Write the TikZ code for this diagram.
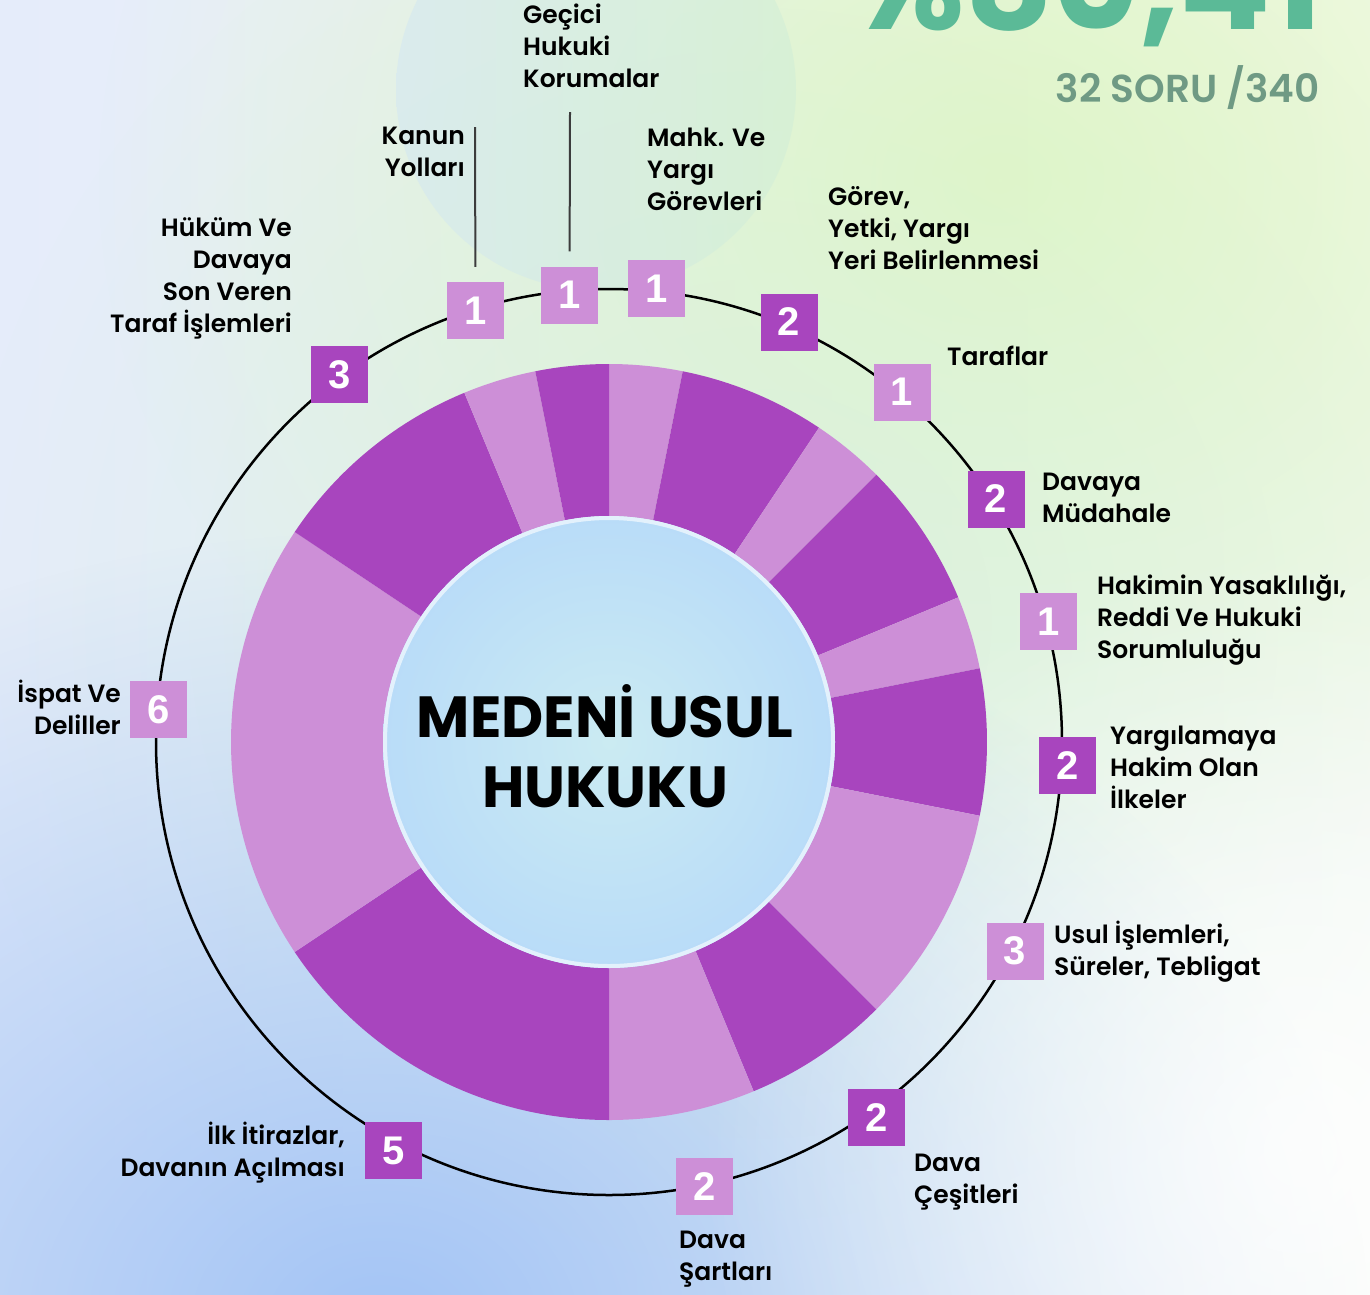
\documentclass[tikz,border=0pt]{standalone}
\usepackage{fontspec}
\usetikzlibrary{calc,fadings}
\newfontfamily\labfont{Poppins SemiBold}
\newfontfamily\headfont{Poppins Bold}
\newfontfamily\numfont{Liberation Sans}

\definecolor{segdark}{HTML}{A845BE}
\definecolor{seglight}{HTML}{CD8FD7}
\definecolor{pctgreen}{HTML}{5BBA97}
\definecolor{sorugray}{HTML}{6F9A84}
\definecolor{leadgray}{HTML}{3C3C3C}
\definecolor{bgleft}{HTML}{E5ECFA}
\definecolor{bgright}{HTML}{F7FAF7}
\definecolor{greenglow}{HTML}{E2F7C4}
\definecolor{cyanglow}{HTML}{D4F0DC}
\definecolor{blueglow}{HTML}{A3C4F5}
\definecolor{diskleft}{HTML}{D6E9F0}
\definecolor{diskright}{HTML}{D4EFD6}
\definecolor{holein}{HTML}{CBEBF2}
\definecolor{holeout}{HTML}{B9DCF8}

\tikzfading[name=glow, inner color=transparent!0, outer color=transparent!100]
\tikzfading[name=band, top color=transparent!100, middle color=transparent!0, bottom color=transparent!100]

\tikzset{
  numbox/.style={minimum size=57pt, inner sep=0pt, text=white,
    font=\numfont\bfseries\fontsize{40}{40}\selectfont},
  darkbox/.style={numbox, fill=segdark},
  lightbox/.style={numbox, fill=seglight},
  lbl/.style={inner sep=0pt, align=left, anchor=base west,
    font=\labfont\fontsize{25}{32}\selectfont},
  lblr/.style={lbl, align=right, anchor=base east},
  leader/.style={draw=leadgray, line width=2pt, shorten >=15pt}
}

\begin{document}
\begin{tikzpicture}[x=1pt, y=-1pt]
\useasboundingbox (0,0) rectangle (1370,1294);
\clip (0,0) rectangle (1370,1294);

\shade[left color=bgleft, right color=bgright] (0,0) rectangle (1370,1294);
\fill[greenglow, path fading=glow] (1000,180) ellipse [x radius=900, y radius=750];
\fill[cyanglow, path fading=glow, opacity=0.7] (760,620) circle [radius=800];
\fill[blueglow, path fading=glow] (380,1330) ellipse [x radius=1000, y radius=800];
\fill[white, path fading=glow, opacity=0.8] (1300,1150) circle [radius=600];
\shade[left color=diskleft, right color=diskright, opacity=0.7] (596,90) circle [radius=200];
\fill[white, path fading=band] (0,330) rectangle (340,418);
\fill[white, path fading=band, opacity=0.6] (0,340) rectangle (330,410);

\coordinate (O) at (609,742);

\foreach \a/\n/\c in {0/1/seglight, 1/2/segdark, 3/1/seglight, 4/2/segdark, 6/1/seglight,
  7/2/segdark, 9/3/seglight, 12/2/segdark, 14/2/seglight, 16/5/segdark,
  21/6/seglight, 27/3/segdark, 30/1/seglight, 31/1/segdark}
  \fill[\c] ($(O)+(-90+11.25*\a:378)$) arc[start angle=-90+11.25*\a, delta angle=11.25*\n, radius=378]
    -- ($(O)+(-90+11.25*\a+11.25*\n:226)$) arc[start angle=-90+11.25*\a+11.25*\n, delta angle=-11.25*\n, radius=226]
    -- cycle;

\shade[inner color=holein, outer color=holeout] (O) circle [radius=226];
\draw[white, opacity=0.6, line width=4pt] (O) circle [radius=224];

\draw[line width=2.5pt] (O) circle [radius=453];

\node[anchor=base east, inner sep=0pt, text=pctgreen, font=\headfont\fontsize{135}{135}\selectfont] (pct) at (1322,29) {\%80,41};
\node[anchor=base east, inner sep=0pt, text=sorugray, font=\labfont\fontsize{39}{39}\selectfont] (soru) at (1320,102) {32 SORU /340};

\node[inner sep=0pt, align=center, anchor=base, font=\headfont\fontsize{58}{70}\selectfont] (title) at (605,807) {MEDENİ USUL\\HUKUKU};

\node[lightbox] (bkanun) at (475.5,310.5) {1};
\node[lightbox] (bgecici) at (569.5,295) {1};
\node[lightbox] (bmahk) at (656.5,288.5) {1};
\node[darkbox] (bgorev) at (789,322) {2};
\node[lightbox] (btaraf) at (902,392) {1};
\node[darkbox] (bmudahale) at (996,499) {2};
\node[lightbox] (bhakim) at (1048.5,621.5) {1};
\node[darkbox] (bilke) at (1067.5,765.5) {2};
\node[lightbox] (busul) at (1015,951) {3};
\node[darkbox] (bcesit) at (876.5,1117.5) {2};
\node[lightbox] (bsart) at (704.5,1186.5) {2};
\node[darkbox] (bitiraz) at (393.5,1150.5) {5};
\node[lightbox] (bispat) at (158.5,709.5) {6};
\node[darkbox] (bhukum) at (339.5,374.5) {3};

\node[lblr] (lkanun) at (465,176) {Kanun\\Yolları};
\node[lbl] (lgecici) at (523,87) {Geçici\\Hukuki\\Korumalar};
\node[lbl] (lmahk) at (647,210) {Mahk. Ve\\Yargı\\Görevleri};
\node[lbl] (lgorev) at (828,269) {Görev,\\Yetki, Yargı\\Yeri Belirlenmesi};
\node[lbl] (ltaraf) at (947,365) {Taraflar};
\node[lbl] (lmudahale) at (1042,522) {Davaya\\Müdahale};
\node[lbl] (lhakim) at (1097,658) {Hakimin Yasaklılığı,\\Reddi Ve Hukuki\\Sorumluluğu};
\node[lbl] (lilke) at (1110,808) {Yargılamaya\\Hakim Olan\\İlkeler};
\node[lbl] (lusul) at (1054,975) {Usul İşlemleri,\\Süreler, Tebligat};
\node[lbl] (lcesit) at (914,1203) {Dava\\Çeşitleri};
\node[lbl] (lsart) at (679,1280) {Dava\\Şartları};
\node[lblr] (litiraz) at (345,1176) {İlk İtirazlar,\\Davanın Açılması};
\node[lblr] (lispat) at (121,734) {İspat Ve\\Deliller};
\node[lblr] (lhukum) at (292,332) {Hüküm Ve\\Davaya\\Son Veren\\Taraf İşlemleri};

\coordinate (kanuntop) at (475,127);
\coordinate (gecicitop) at (570,112);
\draw[leader] (kanuntop) -- (bkanun);
\draw[leader] (gecicitop) -- (bgecici);
\end{tikzpicture}
\end{document}
